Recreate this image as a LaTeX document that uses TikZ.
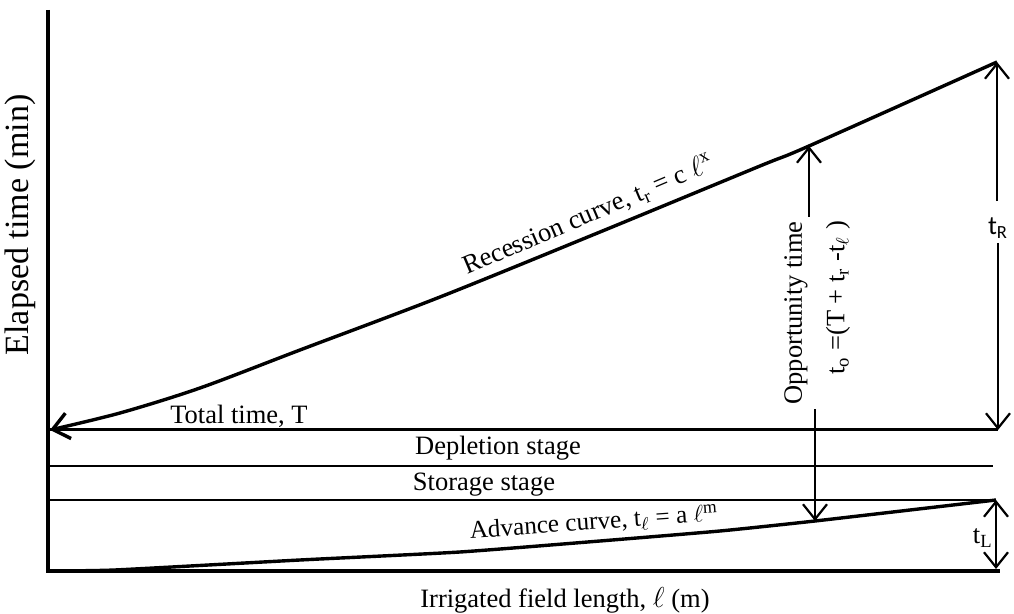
\documentclass[tikz,border=0pt]{standalone}
\usepackage{fontspec}
\setmainfont{Liberation Serif}
\newfontfamily\labelsans{Carlito}
\usetikzlibrary{arrows.meta}

\begin{document}
\begin{tikzpicture}[x=0.5pt, y=-0.5pt,
  axis/.style={line width=2pt},
  stage/.style={line width=1.2pt},
  curve/.style={line width=1.7pt},
  barb/.tip={Straight Barb[length=7.5pt, width=12pt]},
  dim/.style={line width=1.1pt, -barb},
  dimboth/.style={line width=1.1pt, barb-barb},
  lbl/.style={font=\fontsize{13.25}{16}\selectfont, inner sep=0pt}]
\useasboundingbox (0,0) rectangle (1014,614);
\coordinate (O) at (48,571);
\coordinate (ytop) at (48,10);
\coordinate (xend) at (1000,571);
\coordinate (Tl) at (48,430);
\coordinate (Tr) at (998,430);
\coordinate (Dl) at (48,466);
\coordinate (Dr) at (993,466);
\coordinate (Sl) at (48,500);
\coordinate (Sr) at (996,500);
\coordinate (rtop) at (997,62);
\coordinate (optop) at (809,146);
\coordinate (opbot) at (815,521);
\coordinate (tLbot) at (996,569);
\draw[axis] (ytop) -- (O) -- (xend);
\draw[stage, line width=1.5pt] (Tl) -- (Tr);
\draw[stage] (Dl) -- (Dr);
\draw[stage] (Sl) -- (Sr);
\draw[curve, -{Straight Barb[length=8pt, width=13pt]}] plot[smooth] coordinates {(rtop) (optop) (760,166) (600,232) (440,297) (300,350) (200,388) (120,413) (50,430)};
\draw[curve] plot[smooth, tension=0.3] coordinates {(O) (115,570) (300,560) (460,552) (600,541) (720,531) (opbot) (Sr)};
\node[lbl] (total) at (239,416) {Total time, T};
\node[lbl] (depl) at (498,448) {Depletion stage};
\node[lbl] (stor) at (484,485) {Storage stage};
\node[lbl, rotate=23] (rec) at (588,215) {Recession curve, t\textsubscript{r} = c $\ell$\textsuperscript{x}};
\node[lbl, rotate=4, font=\fontsize{12.6}{15}\selectfont] (adv) at (594,523) {Advance curve, t\textsubscript{$\ell$} = a $\ell$\textsuperscript{m}};
\node[lbl, rotate=90, inner sep=2pt] (opp) at (796,313) {Opportunity time};
\node[lbl, rotate=90] (to) at (838,298) {t\textsubscript{o} =(T + t\textsubscript{r} -t\textsubscript{$\ell$} )};
\node[lbl, font={\labelsans\fontsize{13.25}{16}\selectfont}, inner sep=2pt] (tR) at (998,228) {t\textsubscript{R}};
\node[lbl, anchor=east] (tL) at (993,538) {t\textsubscript{L}};
\node[lbl] (xlab) at (565,600) {Irrigated field length, $\ell$ (m)};
\node[lbl, rotate=90, font=\fontsize{17}{20}\selectfont] (ylab) at (20,225) {Elapsed time (min)};
\draw[dim] ([yshift=6pt]tR.north -| rtop) -- (rtop);
\draw[dim] (tR.south -| Tr) -- (Tr);
\draw[dim] (opp.east -| optop) -- (optop);
\draw[dim] (opp.west -| opbot) -- (opbot);
\draw[dimboth] (Sr) -- (tLbot);
\end{tikzpicture}
\end{document}
